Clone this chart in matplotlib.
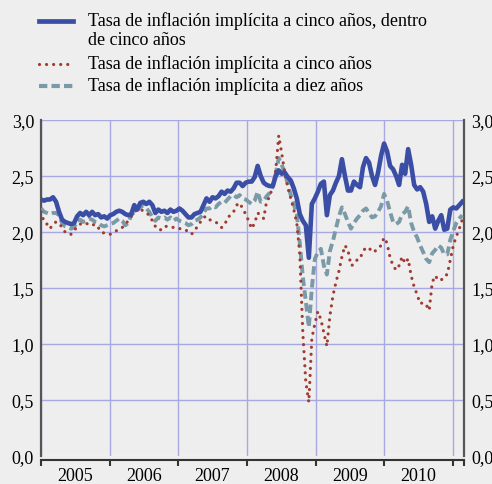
import matplotlib
matplotlib.use("Agg")
import matplotlib.pyplot as plt
from matplotlib.lines import Line2D
from matplotlib.ticker import FuncFormatter
import pandas as pd

# dates every 16 days, Jan 2005 - Feb 2011
dates = pd.date_range("2005-01-01", periods=141, freq="16D")

forward_5y5y = [
    2.29, 2.28, 2.29, 2.29, 2.31, 2.27, 2.18, 2.11, 2.09, 2.08, 2.07, 2.08, 2.14, 2.17, 2.15, 2.18,
    2.15, 2.18, 2.15, 2.16, 2.13, 2.14, 2.12, 2.15, 2.16, 2.18, 2.19, 2.18, 2.16, 2.15, 2.16, 2.24,
    2.20, 2.26, 2.27, 2.25, 2.27, 2.24, 2.17, 2.20, 2.18, 2.19, 2.17, 2.20, 2.18, 2.19, 2.21, 2.19,
    2.16, 2.13, 2.13, 2.16, 2.17, 2.18, 2.24, 2.30, 2.27, 2.31, 2.30, 2.32, 2.36, 2.34, 2.37, 2.36,
    2.39, 2.44, 2.44, 2.41, 2.44, 2.45, 2.45, 2.49, 2.59, 2.50, 2.44, 2.42, 2.41, 2.41, 2.50, 2.55,
    2.52, 2.53, 2.49, 2.46, 2.39, 2.30, 2.16, 2.10, 2.06, 1.77, 2.25, 2.30, 2.36, 2.43, 2.45, 2.15,
    2.33, 2.37, 2.44, 2.50, 2.65, 2.50, 2.37, 2.37, 2.45, 2.42, 2.40, 2.58, 2.66, 2.62, 2.50, 2.42,
    2.53, 2.68, 2.79, 2.72, 2.59, 2.56, 2.50, 2.42, 2.60, 2.52, 2.74, 2.60, 2.42, 2.38, 2.40, 2.36,
    2.25, 2.09, 2.14, 2.03, 2.10, 2.15, 2.02, 2.03, 2.20, 2.22, 2.21, 2.24, 2.27,
]

spot_5y = [
    2.18, 2.09, 2.07, 2.03, 2.07, 2.09, 2.08, 2.04, 2.00, 1.98, 1.98, 2.01, 2.05, 2.07, 2.08, 2.08,
    2.06, 2.06, 2.07, 2.04, 2.00, 1.99, 1.98, 1.98, 2.00, 2.01, 2.03, 2.04, 2.07, 2.10, 2.14, 2.18,
    2.20, 2.20, 2.19, 2.17, 2.15, 2.10, 2.05, 2.02, 2.02, 2.05, 2.05, 2.05, 2.04, 2.04, 2.03, 2.03,
    2.02, 2.00, 1.98, 2.01, 2.05, 2.09, 2.13, 2.14, 2.11, 2.10, 2.09, 2.07, 2.04, 2.06, 2.13, 2.15,
    2.18, 2.24, 2.26, 2.21, 2.16, 2.10, 2.03, 2.08, 2.17, 2.15, 2.12, 2.28, 2.31, 2.42, 2.55, 2.86,
    2.70, 2.53, 2.40, 2.30, 2.20, 2.08, 1.80, 1.10, 0.66, 0.48, 1.05, 1.18, 1.29, 1.22, 1.10, 0.98,
    1.25, 1.43, 1.55, 1.65, 1.78, 1.88, 1.84, 1.70, 1.71, 1.75, 1.76, 1.83, 1.86, 1.86, 1.82, 1.83,
    1.85, 1.88, 1.95, 1.90, 1.77, 1.70, 1.66, 1.70, 1.78, 1.72, 1.76, 1.61, 1.51, 1.44, 1.36, 1.37,
    1.35, 1.30, 1.55, 1.61, 1.57, 1.57, 1.61, 1.62, 1.75, 1.88, 1.96, 2.03, 2.11,
]

spot_10y = [
    2.21, 2.18, 2.17, 2.16, 2.17, 2.17, 2.15, 2.08, 2.05, 2.04, 2.03, 2.04, 2.10, 2.11, 2.09, 2.10,
    2.12, 2.11, 2.09, 2.08, 2.06, 2.05, 2.06, 2.07, 2.08, 2.10, 2.12, 2.10, 2.06, 2.08, 2.15, 2.18,
    2.20, 2.22, 2.24, 2.21, 2.18, 2.13, 2.10, 2.13, 2.12, 2.13, 2.11, 2.13, 2.10, 2.12, 2.10, 2.09,
    2.08, 2.06, 2.07, 2.10, 2.11, 2.13, 2.17, 2.21, 2.21, 2.23, 2.22, 2.25, 2.27, 2.26, 2.29, 2.32,
    2.33, 2.31, 2.33, 2.30, 2.29, 2.27, 2.25, 2.28, 2.36, 2.27, 2.28, 2.32, 2.35, 2.40, 2.52, 2.66,
    2.60, 2.53, 2.43, 2.33, 2.25, 2.16, 1.90, 1.60, 1.38, 1.15, 1.50, 1.76, 1.82, 1.85, 1.70, 1.62,
    1.83, 1.92, 2.03, 2.14, 2.22, 2.16, 2.09, 2.03, 2.08, 2.12, 2.15, 2.19, 2.21, 2.17, 2.13, 2.14,
    2.18, 2.23, 2.34, 2.28, 2.18, 2.09, 2.07, 2.09, 2.16, 2.18, 2.23, 2.08, 2.00, 1.95, 1.88, 1.82,
    1.76, 1.73, 1.81, 1.84, 1.88, 1.86, 1.80, 1.80, 1.93, 2.01, 2.08, 2.12, 2.15,
]

labels = [
    "Tasa de inflación implícita a cinco años, dentro\nde cinco años",
    "Tasa de inflación implícita a cinco años",
    "Tasa de inflación implícita a diez años",
]
years = [2005, 2006, 2007, 2008, 2009, 2010]

bg = "#eeeeee"
blue = "#3b4ea6"
red = "#a13a2f"
grey = "#7b9aa7"
grid_col = "#a9a9e2"

plt.rcParams["font.family"] = ["Liberation Serif", "DejaVu Serif"]
plt.rcParams["font.size"] = 13

fig = plt.figure(figsize=(4.92, 4.85), dpi=100, facecolor=bg)
ax = fig.add_axes([41 / 492, 28 / 485, 423 / 492, 336 / 485], facecolor=bg)

ax.plot(dates, spot_10y, color=grey, lw=2.8, linestyle=(0, (2.2, 1.1)), zorder=3)
ax.plot(dates, spot_5y, color=red, lw=2.3, linestyle=(0, (0.01, 2.2)),
        dash_capstyle="round", zorder=4)
ax.plot(dates, forward_5y5y, color=blue, lw=3.3, zorder=5, solid_joinstyle="round")

x_end = pd.Timestamp("2011-02-28")
ax.set_ylim(0, 3)
ax.set_xlim(pd.Timestamp("2005-01-01"), x_end)
ax.set_yticks([0, 0.5, 1, 1.5, 2, 2.5, 3])
ax.yaxis.set_major_formatter(FuncFormatter(lambda v, p: f"{v:.1f}".replace(".", ",")))
ax.tick_params(axis="y", length=0, pad=5, labelright=True, labelsize=13)

ax.set_xticks([pd.Timestamp(f"{y}-01-01") for y in years + [2011]] + [x_end])
ax.set_xticklabels([])
ax.set_xticks([pd.Timestamp(f"{y}-07-01") for y in years], minor=True)
ax.set_xticklabels([str(y) for y in years], minor=True)
ax.tick_params(axis="x", which="major", direction="out", length=4, width=1.5, color="#333333")
ax.tick_params(axis="x", which="minor", length=0, pad=5, labelsize=13)

ax.grid(True, color=grid_col, lw=1.0, zorder=0)
ax.axhline(0, color="white", lw=2.5, zorder=1)

for side in ["left", "right"]:
    ax.spines[side].set_color("#555555")
    ax.spines[side].set_linewidth(1.6)
ax.spines["top"].set_visible(False)
ax.spines["bottom"].set_position(("outward", 3))
ax.spines["bottom"].set_color("#333333")
ax.spines["bottom"].set_linewidth(1.5)

# legend drawn by hand so the first handle sits on the first text line
styles = [
    dict(color=blue, lw=3.4),
    dict(color=red, lw=2.3, linestyle=(0, (0.01, 2.2)), dash_capstyle="round"),
    dict(color=grey, lw=3.0, linestyle=(0, (2.0, 1.0))),
]
rows = [22, 65, 87]
for style, label, row in zip(styles, labels, rows):
    y = 1 - row / 485
    fig.add_artist(Line2D([39 / 492, 73 / 492], [y, y], transform=fig.transFigure, **style))
    fig.text(88 / 492, 1 - (row - 10) / 485, label, ha="left", va="top", fontsize=13,
             linespacing=1.18)

fig.savefig("out.png", dpi=100, facecolor=bg)
